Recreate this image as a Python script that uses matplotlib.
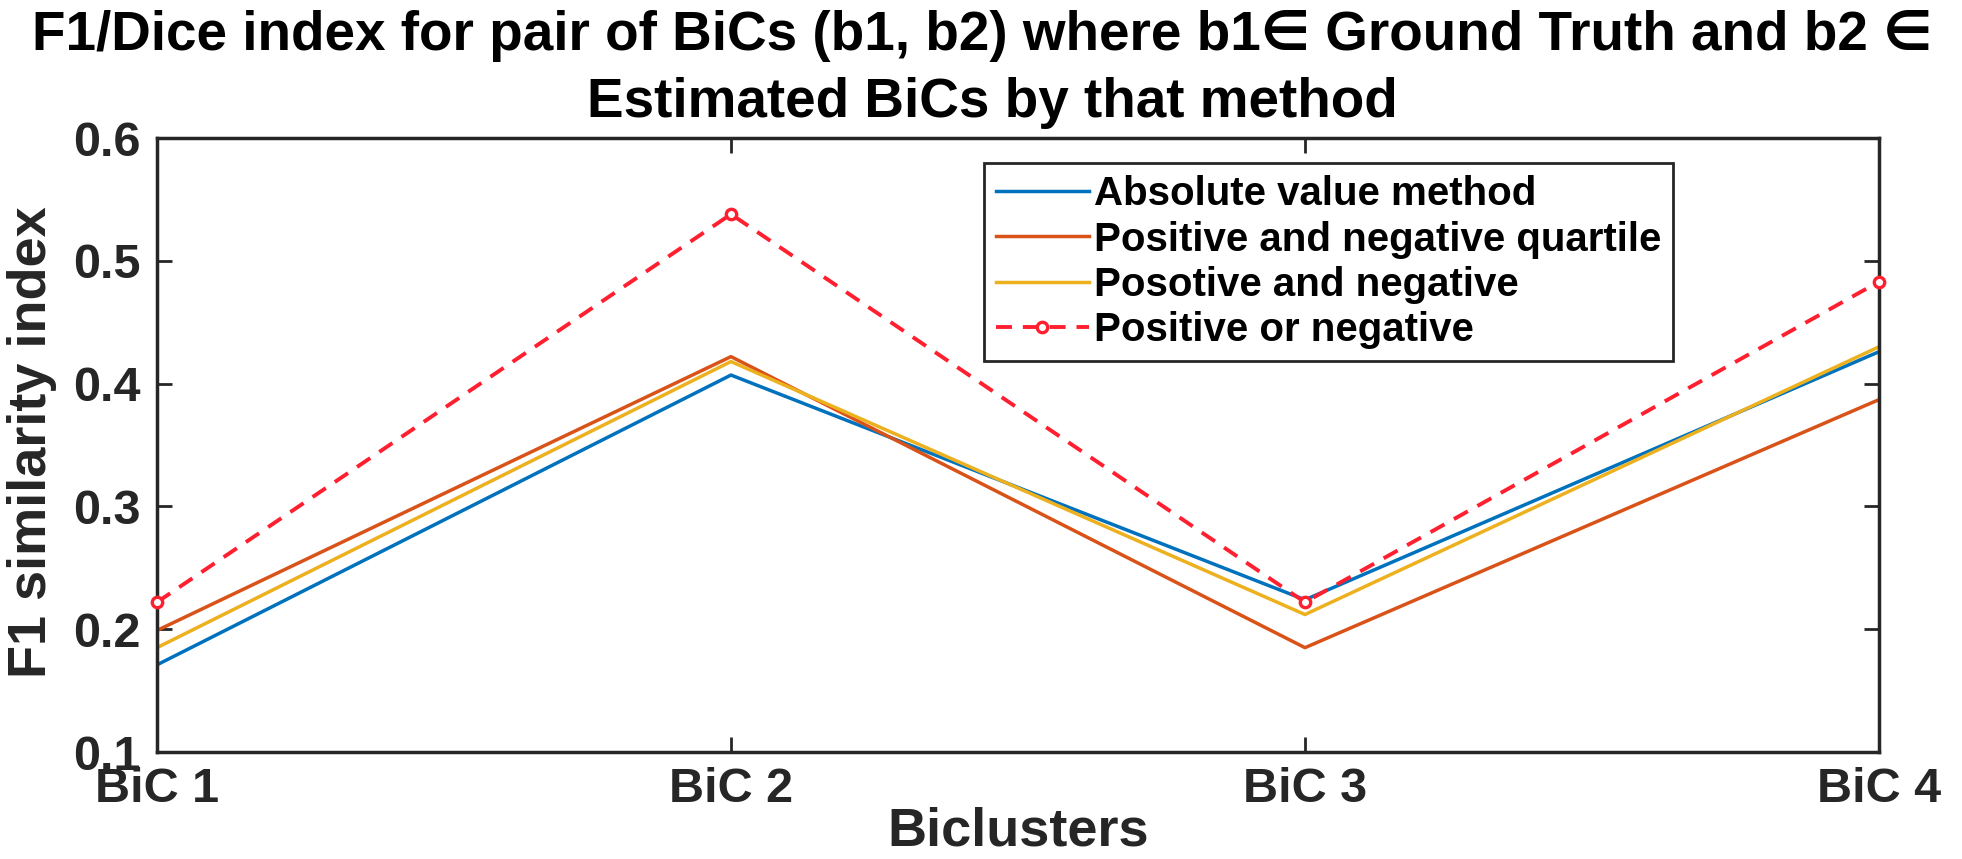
import numpy as np
import matplotlib
matplotlib.use('Agg')
import matplotlib.pyplot as plt

plt.rcParams['font.family'] = ['Liberation Sans', 'DejaVu Sans']
plt.rcParams['font.weight'] = 'bold'

bic_labels = ['BiC 1', 'BiC 2', 'BiC 3', 'BiC 4']
absolute_value = [0.171, 0.407, 0.224, 0.426]
pos_neg_quartile = [0.199, 0.422, 0.185, 0.387]
posotive_and_negative = [0.185, 0.418, 0.212, 0.430]
positive_or_negative = [0.222, 0.538, 0.222, 0.483]

series_names = ['Absolute value method', 'Positive and negative quartile',
                'Posotive and negative', 'Positive or negative']

x = np.arange(1, len(bic_labels) + 1)

fig = plt.figure(figsize=(19.62, 8.59), dpi=100)
ax = fig.add_axes([0.080, 0.1245, 0.8777, 0.7148])

ax.plot(x, absolute_value, '-', color='#0072BD', lw=2.5, label=series_names[0])
ax.plot(x, pos_neg_quartile, '-', color='#D95319', lw=2.5, label=series_names[1])
ax.plot(x, posotive_and_negative, '-', color='#EDB120', lw=2.5, label=series_names[2])
ax.plot(x, positive_or_negative, '--', color='#FF1F2F', lw=2.8, dashes=(4.1, 2.8),
        marker='o', ms=7.5, mfc='white', mec='#FF1F2F', mew=2.4,
        label=series_names[3], clip_on=False, zorder=5)

ax.set_xlim(1, 4)
ax.set_ylim(0.1, 0.6)
ax.set_xticks(x)
ax.set_xticklabels(bic_labels)
ax.set_yticks([0.1, 0.2, 0.3, 0.4, 0.5, 0.6])
ax.set_yticklabels(['0.1', '0.2', '0.3', '0.4', '0.5', '0.6'])

for sp in ax.spines.values():
    sp.set_color('#262626')
    sp.set_linewidth(2.5)

ax.tick_params(axis='both', which='major', direction='in', length=11, width=2,
               color='#262626', labelsize=35, top=True, right=True)
ax.tick_params(axis='x', pad=11)
ax.tick_params(axis='y', pad=12)
for lab in ax.get_xticklabels() + ax.get_yticklabels():
    lab.set_fontweight('bold')
    lab.set_color('#262626')

ax.set_xlabel('Biclusters', fontsize=39, fontweight='bold', color='#262626')
ax.xaxis.set_label_coords(0.5, -0.088)
ax.set_ylabel('F1 similarity index', fontsize=39, fontweight='bold', color='#262626')
ax.yaxis.set_label_coords(-0.058, 0.505)

fig.text(0.5005, 1 - 50 / 859, 'F1/Dice index for pair of BiCs (b1, b2) where b1\u2208 Ground Truth and b2 \u2208',
         ha='center', va='baseline', fontsize=39.5, fontweight='bold')
fig.text(0.506, 1 - 117 / 859, 'Estimated BiCs by that method',
         ha='center', va='baseline', fontsize=39.5, fontweight='bold')

leg = ax.legend(loc='upper right', bbox_to_anchor=(0.8804, 0.959), borderaxespad=0,
                fontsize=29, handlelength=2.3, handletextpad=0.12, labelspacing=0.18,
                borderpad=0.3, numpoints=1, fancybox=False, framealpha=1)
leg.get_frame().set_edgecolor('#262626')
leg.get_frame().set_linewidth(2.0)
for t in leg.get_texts():
    t.set_fontweight('bold')

fig.savefig('out.png', dpi=100)
